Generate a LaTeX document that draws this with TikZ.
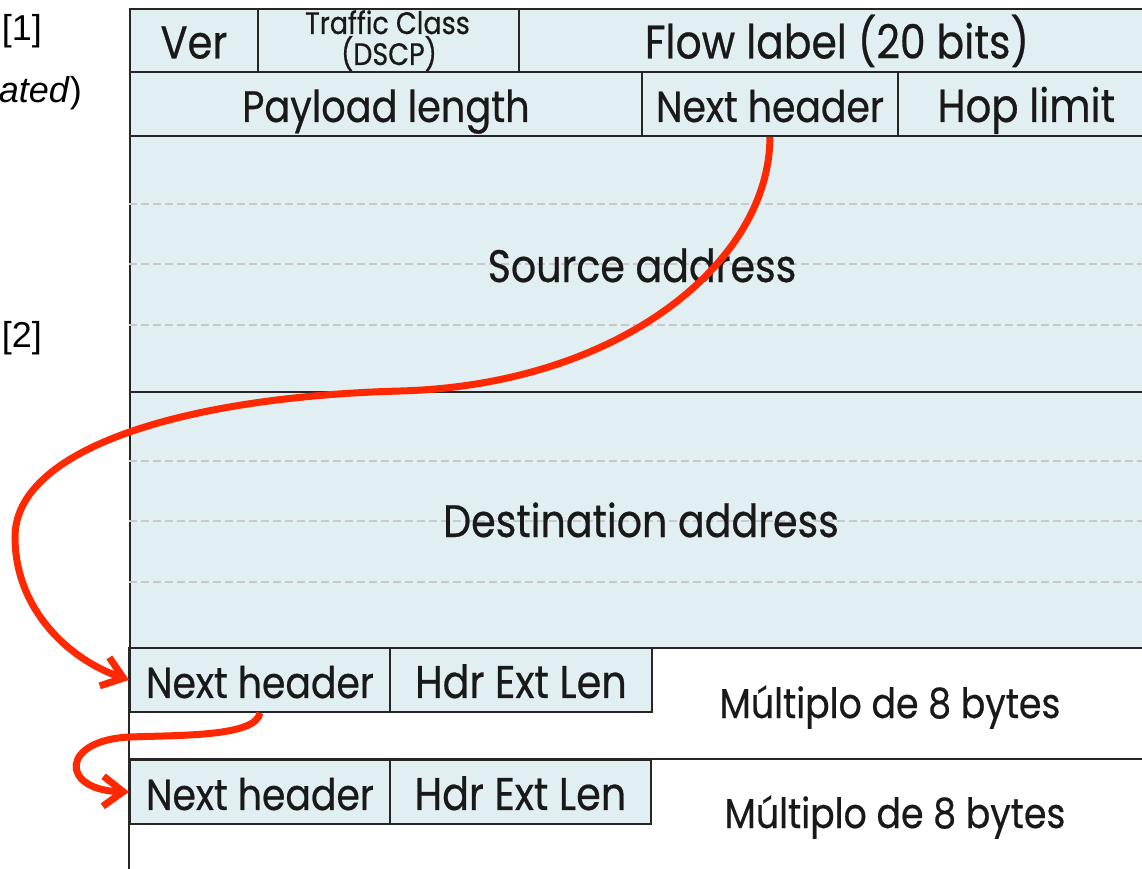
\documentclass[tikz,border=0pt]{standalone}
\usepackage{fontspec}
\setmainfont[FakeStretch=0.87,FakeBold=0.5]{Poppins}
\newfontfamily\arialfont{Liberation Sans}
\usetikzlibrary{arrows.meta}
\definecolor{cellfill}{RGB}{225,238,242}
\definecolor{linkred}{RGB}{255,40,0}
\definecolor{rulegray}{RGB}{200,200,200}
\newcommand{\fs}[1]{\fontsize{#1}{#1}\selectfont}
\begin{document}
\begin{tikzpicture}[x=1pt,y=-1pt,
  cell/.style={draw=black!85, line width=1.9pt, fill=cellfill, inner sep=0pt,
    anchor=north west, text=black!90, font=\fs{45}, text height=40pt, text depth=4pt},
  label/.style={text=black!90, inner sep=0pt, anchor=base, font=\fs{45.5}},
  side/.style={inner sep=0pt, anchor=east, font=\arialfont\fontsize{36}{40}\selectfont},
  frame/.style={draw=black!85, line width=1.9pt},
  rule/.style={draw=rulegray, line width=1.2pt, dash pattern=on 8pt off 4pt},
  link/.style={draw=linkred, line width=7pt, -{Straight Barb[length=20pt,width=30pt]}}]
\path[use as bounding box, clip] (0,0) rectangle (1142,869);
\fill[white] (0,0) rectangle (1142,869);

% partial reference marks at the left margin
\node[side] (ref1) at (42,31) {[1]};
\node[side] (dep) at (82,93) {\textit{ated})};
\node[side] (ref2) at (42,338) {[2]};

% fixed IPv6 header
\node[cell, font=\fs{46}, minimum width=128, minimum height=63] (ver) at (129,8) {Ver};
\node[cell, minimum width=261, minimum height=63] (tc) at (257,8) {};
\node[label, font=\fs{31}] (tctxt) at (387.5,34) {Traffic Class};
\node[label, font=\fs{31}] (dscp) at (389,65) {(DSCP)};
\node[cell, font=\fs{47}, minimum width=636, minimum height=63] (flow) at (518,8) {Flow label (20 bits)};
\node[cell, font=\fs{44}, minimum width=512, minimum height=64] (paylen) at (129,71) {Payload length};
\node[cell, font=\fs{43.4}, minimum width=256, minimum height=64] (nexthdr) at (641,71) {Next header};
\node[cell, font=\fs{46.3}, minimum width=257, minimum height=64] (hoplim) at (897,71) {Hop limit};
\node[cell, minimum width=1025, minimum height=256] (src) at (129,135) {};
\node[cell, minimum width=1025, minimum height=256] (dst) at (129,391) {};

% 32-bit word separators inside the addresses
\foreach \y in {204,264,325,461,521,582}
  \draw[rule] (129,\y) -- (1154,\y);
\node[label] (srctxt) at (642,282) {Source address};
\node[label] (dsttxt) at (641,537) {Destination address};

% extension headers
\draw[frame] (129,647) -- (129,880);
\draw[frame] (129,759) -- (1154,759);
\node[cell, font=\fs{43.4}, minimum width=260, minimum height=64] (e1nh) at (129,647) {Next header};
\node[cell, font=\fs{45.7}, minimum width=262, minimum height=64] (e1len) at (389,647) {Hdr Ext Len};
\node[cell, font=\fs{43.4}, minimum width=260, minimum height=64] (e2nh) at (129,759) {Next header};
\node[cell, font=\fs{45.7}, minimum width=261, minimum height=64] (e2len) at (389,759) {Hdr Ext Len};
\node[label, font=\fs{41.7}] (e1mult) at (890,718) {Múltiplo de 8 bytes};
\node[label, font=\fs{41.7}] (e2mult) at (895,828) {Múltiplo de 8 bytes};

% next-header chain
\draw[link] (nexthdr.south) .. controls +(0,125) and (620,385) .. (400,391)
  .. controls (180,397) and (15,450) .. (15,537)
  .. controls (15,610) and (70,660) .. (e1nh.west);
\draw[link] (e1nh.south) .. controls +(-4,24) and (180,735) .. (130,737)
  .. controls (60,740) and (60,790) .. (e2nh.west);
\end{tikzpicture}
\end{document}
